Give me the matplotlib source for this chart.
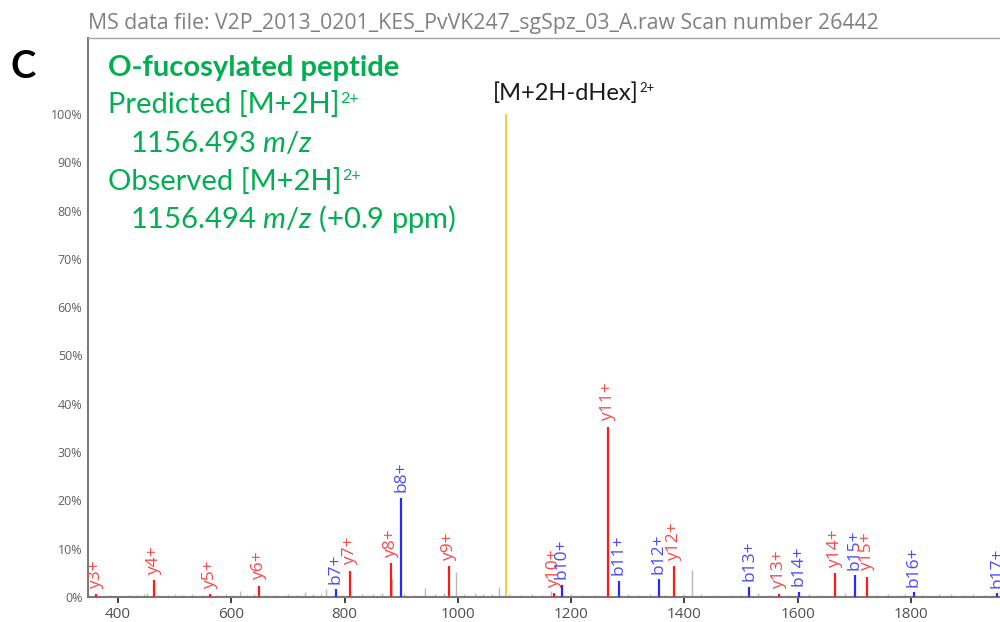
import matplotlib
matplotlib.use("Agg")
import matplotlib.pyplot as plt

# ---------------- data ----------------
title_text = "MS data file: V2P_2013_0201_KES_PvVK247_sgSpz_03_A.raw Scan number 26442"

# annotated fragment ions (m/z, relative intensity %, label, ion type)
ion_mz = [362, 463, 563, 649.5, 784, 810, 881.5, 899.6, 984, 1170, 1183, 1265.6,
          1284, 1355, 1381.6, 1514.6, 1567.5, 1602, 1665, 1701, 1722, 1805, 1952]
ion_int = [0.6, 3.5, 0.6, 2.3, 1.6, 5.4, 7.0, 20.6, 6.4, 0.8, 2.5, 35.2,
           3.4, 3.7, 6.4, 2.1, 0.6, 1.1, 4.9, 4.5, 4.2, 1.0, 0.8]
ion_lab = ["y3+", "y4+", "y5+", "y6+", "b7+", "y7+", "y8+", "b8+", "y9+", "y10+", "b10+", "y11+",
           "b11+", "b12+", "y12+", "b13+", "y13+", "b14+", "y14+", "b15+", "y15+", "b16+", "b17+"]
ion_type = ["y", "y", "y", "y", "b", "y", "y", "b", "y", "y", "b", "y",
            "b", "b", "y", "b", "y", "b", "y", "b", "y", "b", "b"]

# precursor-related peak
prec_mz = [1084.5]
prec_int = [100.0]
prec_label = "[M+2H-dHex]"

# unassigned peaks
noise_mz = [372, 385, 402, 418, 431, 445, 452, 470, 488, 500, 515, 530, 548, 575, 590, 603, 615,
            628, 640, 662, 680, 700, 716, 730, 745, 758, 768, 795, 830, 850, 866, 884, 905, 925,
            942, 960, 975, 997, 1010, 1030, 1045, 1060, 1073, 1090, 1110, 1130, 1150, 1164,
            1200, 1220, 1240, 1300, 1320, 1340, 1365, 1400, 1413, 1430, 1455, 1480, 1500, 1530,
            1550, 1585, 1620, 1640, 1684, 1740, 1760, 1780, 1790, 1820, 1850, 1870, 1890, 1910,
            1930, 1945]
noise_int = [0.3, 0.4, 0.3, 0.4, 0.5, 0.6, 0.8, 0.5, 0.4, 0.7, 0.4, 0.6, 0.4, 0.5, 0.6, 0.5, 1.3,
             0.5, 0.6, 0.4, 0.5, 0.7, 0.5, 1.0, 0.6, 0.7, 1.6, 0.5, 0.6, 0.7, 0.9, 3.7, 0.6, 0.5,
             1.9, 0.6, 0.8, 5.2, 0.7, 0.9, 0.6, 0.7, 2.1, 0.6, 0.5, 0.6, 0.5, 1.2,
             0.6, 0.5, 0.4, 0.6, 0.5, 0.6, 0.4, 0.7, 5.5, 0.6, 0.5, 0.4, 0.5, 0.9,
             0.4, 0.5, 0.6, 0.4, 0.8, 0.5, 0.6, 0.4, 0.7, 0.5, 0.6, 0.7, 0.5, 0.6,
             0.4, 0.5]

x_ticks = [400, 600, 800, 1000, 1200, 1400, 1600, 1800]
y_ticks = [0, 10, 20, 30, 40, 50, 60, 70, 80, 90, 100]
y_tick_labels = [f"{v}%" for v in y_ticks]

# ---------------- style ----------------
W, H = 1000, 622
plt.rcParams['font.family'] = ['Open Sans', 'DejaVu Sans']
plt.rcParams['mathtext.fontset'] = 'custom'
plt.rcParams['mathtext.rm'] = 'Lato'
plt.rcParams['mathtext.it'] = 'Lato:italic'
plt.rcParams['mathtext.bf'] = 'Lato:bold'

GREEN = '#00b050'
RED_LINE = '#ff1a1a'
BLUE_LINE = '#2a2aff'
RED_TXT = '#ff4545'
BLUE_TXT = '#4a4aff'
GRAY_PEAK = '#b8b8b8'
YELLOW = '#f7d231'

fig = plt.figure(figsize=(W / 100, H / 100), dpi=100)
renderer = fig.canvas.get_renderer()

def fx(px):
    return px / W

def fy(py):
    return 1 - py / H

ax_left, ax_top, ax_bottom, ax_right = 88, 38, 597, 1000
ax = fig.add_axes([fx(ax_left), fy(ax_bottom), fx(ax_right - ax_left), (ax_bottom - ax_top) / H])
ax.set_xlim(347, 1957)
ax.set_ylim(0, (ax_bottom - ax_top) / 4.83)

# peaks
ax.vlines(noise_mz, 0, noise_int, color=GRAY_PEAK, lw=1.0, zorder=1)
for mz, it, lab, tp in zip(ion_mz, ion_int, ion_lab, ion_type):
    lc = RED_LINE if tp == 'y' else BLUE_LINE
    tc = RED_TXT if tp == 'y' else BLUE_TXT
    ax.vlines(mz, 0, it, color=lc, lw=1.6, zorder=3)
    ax.annotate(lab, xy=(mz, it), xytext=(0, 4), textcoords='offset points',
                rotation=90, ha='center', va='bottom', color=tc, fontsize=12.5,
                annotation_clip=False, zorder=4)
ax.vlines(prec_mz, 0, prec_int, color=YELLOW, lw=1.4, zorder=2)

# axes styling
ax.spines['right'].set_visible(False)
ax.spines['top'].set_color('#a6a6a6')
ax.spines['top'].set_linewidth(1.0)
for s in ('left', 'bottom'):
    ax.spines[s].set_color('#7a7a7a')
    ax.spines[s].set_linewidth(1.5)
ax.set_xticks(x_ticks)
ax.set_xticklabels([str(v) for v in x_ticks])
ax.set_yticks(y_ticks)
ax.set_yticklabels(y_tick_labels)
ax.tick_params(axis='x', length=4, width=1.3, color='#333333', labelsize=11,
               labelcolor='#505050', pad=3)
ax.tick_params(axis='y', length=0, labelsize=9, labelcolor='#606060', pad=4)


def text_with_sup(x_px, y_px, main, sup, size, color, family='Lato', **kw):
    t = fig.text(fx(x_px), fy(y_px), main, ha='left', va='baseline',
                 color=color, fontsize=size, family=family, **kw)
    bb = t.get_window_extent(renderer=renderer)
    x_end = bb.x1  # display pixels from left
    raise_px = 0.34 * size * 100 / 72
    fig.text((x_end + 1) / W, fy(y_px - raise_px), sup, ha='left', va='baseline',
             color=color, fontsize=size * 0.55, family=family)
    return t


# texts
fig.text(fx(483), fy(29), title_text, ha='center', va='baseline',
         color='#808080', fontsize=15.3)
fig.text(fx(11), fy(78), "C", ha='left', va='baseline', color='black',
         fontsize=27.5, fontweight='bold', family='Lato')
GS = 21
fig.text(fx(108), fy(76), "O-fucosylated peptide", ha='left', va='baseline',
         color=GREEN, fontsize=GS, fontweight='bold', family='Lato')
text_with_sup(108, 113, "Predicted [M+2H]", "2+", GS, GREEN)
fig.text(fx(130), fy(152), r"1156.493 $\mathit{m/z}$", ha='left',
         va='baseline', color=GREEN, fontsize=GS, family='Lato')
text_with_sup(108, 190, "Observed [M+2H]", "2+", GS, GREEN)
fig.text(fx(130), fy(228), r"1156.494 $\mathit{m/z}$ (+0.9 ppm)", ha='left',
         va='baseline', color=GREEN, fontsize=GS, family='Lato')
text_with_sup(493, 100, prec_label, "2+", 17, '#1a1a1a')

fig.savefig('out.png', dpi=100)
